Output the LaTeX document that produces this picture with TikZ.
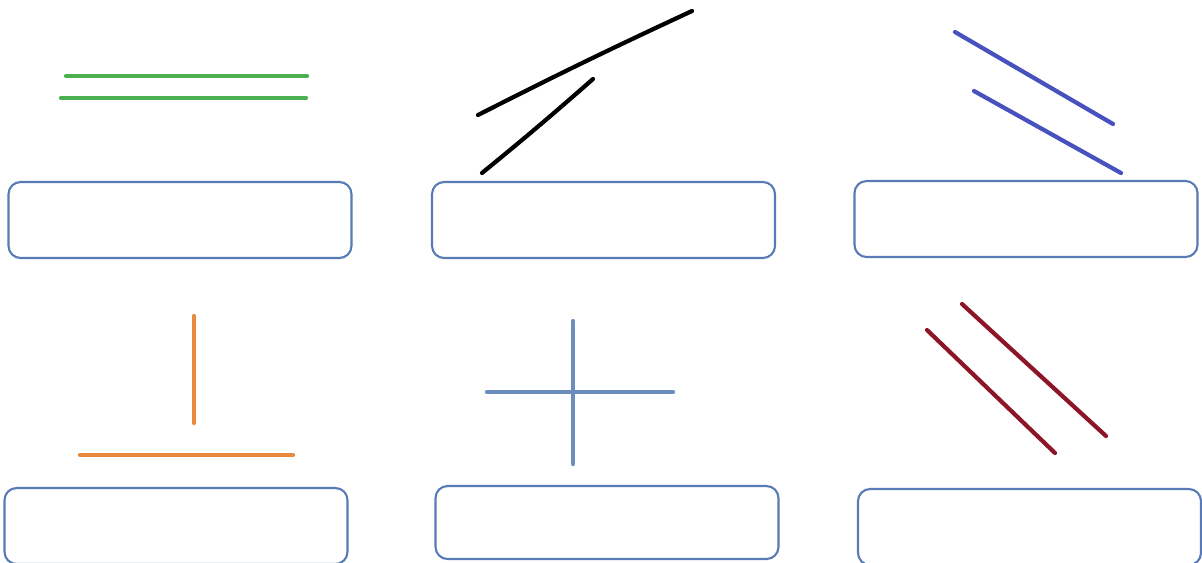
\documentclass[tikz,border=0pt]{standalone}
\usetikzlibrary{positioning}

\definecolor{boxblue}{RGB}{88,122,182}
\definecolor{pargreen}{RGB}{76,175,80}
\definecolor{skewblue}{RGB}{72,82,190}
\definecolor{perporange}{RGB}{232,137,60}
\definecolor{crossblue}{RGB}{108,142,190}
\definecolor{wine}{RGB}{140,22,40}

\begin{document}
\begin{tikzpicture}[x=0.02cm, y=-0.02cm,
        ans/.style={rectangle, draw=boxblue, line width=1.2pt,
                    rounded corners=0.24cm, fill=white,
                    minimum width=6.86cm, minimum height=1.52cm, inner sep=0pt},
        seg/.style={line width=2.4pt, line cap=round}]
      \useasboundingbox (0,0) rectangle (1202,562);
      % answer boxes
      \node[ans] (b1) at (180,220) {};
      \node[ans] (b2) at (603.5,220) {};
      \node[ans] (b3) at (1026,219) {};
      \node[ans, minimum height=1.46cm] (b5) at (607,522.5) {};
      \node[ans] (b4) at (176,526) {};
      \node[ans] (b6) at (1029.5,527) {};
      % parallel lines
      \draw[seg, pargreen] (66,76) -- (307,76);
      \draw[seg, pargreen] (61,98) -- (306,98);
      % intersecting lines
      \draw[seg, black] (478,115) to[bend left=1] (692,11);
      \draw[seg, black] (593,79) to[bend left=1] (482,173);
      % skew lines
      \draw[seg, skewblue] (955,32) -- (1113,124);
      \draw[seg, skewblue] (974,91) -- (1121,173);
      % perpendicular
      \draw[seg, perporange] (194,316) -- (194,423);
      \draw[seg, perporange] (80,455) -- (293,455);
      % cross
      \draw[seg, crossblue] (573,321) -- (573,464);
      \draw[seg, crossblue] (487,392) -- (673,392);
      % slanted parallels
      \draw[seg, wine] (962,304) -- (1106,436);
      \draw[seg, wine] (927,330) -- (1055,453);
    \end{tikzpicture}
\end{document}
